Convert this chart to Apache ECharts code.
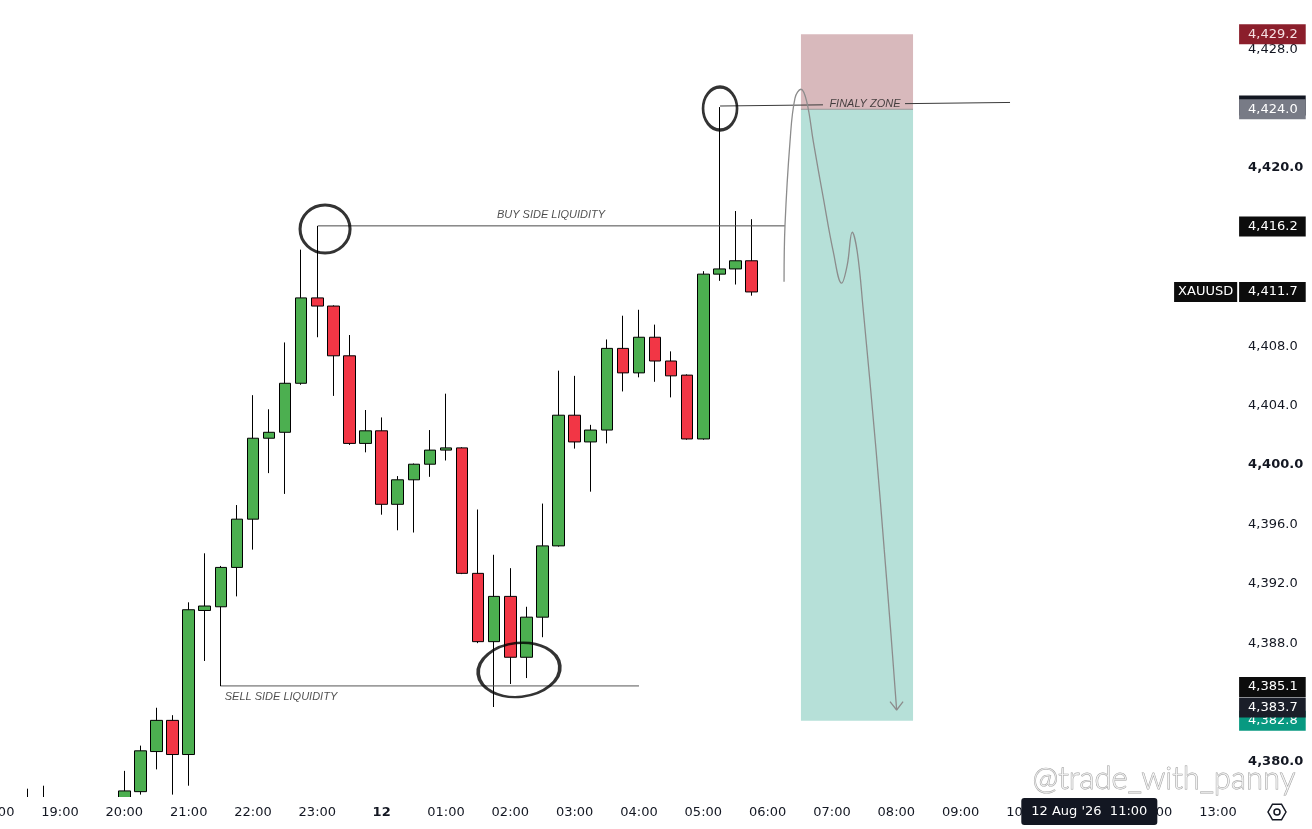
<!DOCTYPE html>
<html>
<head>
<meta charset="utf-8">
<script src="https://cdn.jsdelivr.net/npm/echarts@6/dist/echarts.min.js"></script>
<style>
html,body{margin:0;padding:0;background:#ffffff;}
#c{width:1312px;height:829px;}
</style>
</head>
<body>
<div id="c"></div>
<script>
// ---------- DATA ----------
// 15-minute time slots from 18:00 to 13:15 (next day)
const times = [];
for (let k = 0; k < 78; k++) {
  const m = 18 * 60 + k * 15;
  const h = Math.floor(m / 60) % 24, mm = m % 60;
  times.push(String(h).padStart(2, '0') + ':' + String(mm).padStart(2, '0'));
}

// [open, close, low, high]
const candles = [
  ['-','-','-','-'], ['-','-','-','-'],
  [4377.3, 4377.1, 4376.9, 4378.2],
  [4377.0, 4377.3, 4376.8, 4378.4],
  ['-','-','-','-'], ['-','-','-','-'], ['-','-','-','-'], ['-','-','-','-'],
  [4377.2, 4378.05, 4376.9, 4379.4],
  [4378.0, 4380.75, 4377.8, 4381.1],
  [4380.7, 4382.8, 4379.5, 4383.65],
  [4382.8, 4380.5, 4377.8, 4383.15],
  [4380.5, 4390.25, 4378.4, 4390.75],
  [4390.2, 4390.5, 4386.8, 4394.05],
  [4390.45, 4393.1, 4385.1, 4393.2],
  [4393.1, 4396.35, 4391.15, 4397.3],
  [4396.35, 4401.8, 4394.3, 4404.7],
  [4401.8, 4402.2, 4399.45, 4403.75],
  [4402.2, 4405.5, 4398.05, 4408.25],
  [4405.5, 4411.25, 4405.4, 4414.5],
  [4411.25, 4410.7, 4408.6, 4416.1],
  [4410.7, 4407.35, 4404.65, 4410.75],
  [4407.35, 4401.45, 4401.35, 4408.75],
  [4401.45, 4402.3, 4400.85, 4403.7],
  [4402.3, 4397.35, 4396.65, 4403.2],
  [4397.35, 4399.0, 4395.6, 4399.25],
  [4399.0, 4400.05, 4395.45, 4400.1],
  [4400.05, 4401.0, 4399.2, 4402.35],
  [4401.0, 4401.15, 4400.3, 4404.8],
  [4401.15, 4392.7, 4392.65, 4401.2],
  [4392.7, 4388.1, 4388.0, 4397.0],
  [4388.1, 4391.15, 4383.7, 4393.95],
  [4391.15, 4387.05, 4385.25, 4393.05],
  [4387.05, 4389.75, 4385.65, 4390.45],
  [4389.75, 4394.55, 4388.4, 4397.4],
  [4394.55, 4403.35, 4394.5, 4406.35],
  [4403.35, 4401.55, 4401.1, 4406.0],
  [4401.55, 4402.35, 4398.2, 4402.7],
  [4402.35, 4407.85, 4401.45, 4408.45],
  [4407.85, 4406.2, 4404.95, 4410.05],
  [4406.2, 4408.6, 4405.9, 4410.45],
  [4408.6, 4407.0, 4405.6, 4409.45],
  [4407.0, 4406.0, 4404.55, 4407.65],
  [4406.05, 4401.75, 4401.7, 4406.1],
  [4401.75, 4412.85, 4401.7, 4413.05],
  [4412.85, 4413.2, 4412.4, 4424.1],
  [4413.2, 4413.75, 4412.15, 4417.1],
  [4413.75, 4411.65, 4411.4, 4416.55]
];

// price tags on the right scale
const tagPrices = [4382.78, 4429.0, 4424.2, 4423.95, 4416.05, 4411.65, 4385.05, 4383.67];
const tagTexts  = ['4,382.8', '4,429.2', '4,424.3', '4,424.0', '4,416.2', '4,411.7', '4,385.1', '4,383.7'];
const symbolName = 'XAUUSD';
const symbolPrice = 4411.65;

// crosshair label on time axis
const pointerIndex = 68;
const pointerText = "12 Aug '26  11:00";

// drawings (x in slot units, y in price)
const buySideLine  = [[20.04, 4416.1], [49.08, 4416.1]];
const sellSideLine = [[14.01, 4385.12], [40.0, 4385.12]];
const finalyLine   = [[45.04, 4424.17], [51.44, 4424.25], ['-', '-'], [56.54, 4424.33], [63.07, 4424.41]];
const entryLine    = [[50.07, 4423.95], [57.04, 4423.95]];
const zoneX = [50.07, 57.04];
const zoneLevels = [4429.0, 4423.95, 4382.78];
const pathPts = [
  [49.02, 4412.34], [49.08, 4416.16], [49.39, 4421.77], [49.70, 4424.71], [50.07, 4425.30],
  [50.43, 4424.46], [50.84, 4421.77], [51.46, 4417.98], [52.08, 4414.36], [52.60, 4412.24],
  [52.95, 4413.47], [53.26, 4415.67], [53.57, 4414.36], [53.93, 4410.6],
  [54.74, 4401.01], [55.25, 4394.28], [55.66, 4388.69], [56.02, 4383.5]
];
const arrowPts = [[55.61, 4384.06], [56.02, 4383.5], [56.42, 4384.06]];
const circles = [
  { value: [20.48, 4415.89], size: [50, 48], rot: 0 },
  { value: [32.54, 4386.2],  size: [82, 54], rot: 6 },
  { value: [45.04, 4424.0],  size: [34, 43], rot: 0 }
];
const notes = [
  { value: [34.53, 4416.84], name: 'BUY SIDE LIQUIDITY' },
  { value: [17.74, 4384.38], name: 'SELL SIDE LIQUIDITY' },
  { value: [54.05, 4424.28], name: 'FINALY ZONE' }
];
const watermark = '@trade_with_panny';

// ---------- CHART ----------
const FONT = 'DejaVu Sans';
const TXT = '#131722';
const chart = echarts.init(document.getElementById('c'));

const tagColors = ['#089981', '#8b1e2b', '#131722', '#787b86', '#0c0c0c', '#0c0c0c', '#0c0c0c', '#1a1e29'];
const tagData = tagPrices.map((p, i) => ({
  yAxis: p,
  lineStyle: { color: 'rgba(0,0,0,0)', width: 0 },
  label: {
    show: true, position: 'end', distance: -3, formatter: tagTexts[i],
    backgroundColor: tagColors[i], color: i === 1 ? '#f6dfe2' : '#ffffff',
    fontFamily: FONT, fontSize: 13, lineHeight: 14, padding: [3, 8, 3, 9]
  }
}));
tagData.push({
  yAxis: symbolPrice,
  lineStyle: { color: 'rgba(0,0,0,0)', width: 0 },
  label: {
    show: true, position: 'end', distance: -68, formatter: symbolName,
    backgroundColor: '#0c0c0c', color: '#ffffff',
    fontFamily: FONT, fontSize: 13, lineHeight: 14, padding: [3, 4, 3, 4]
  }
});

const drawLine = (data, color, width) => ({
  type: 'line', xAxisIndex: 1, yAxisIndex: 0, data: data, symbol: 'none',
  connectNulls: false, silent: true, z: 4,
  lineStyle: { color: color, width: width }
});

const option = {
  animation: false,
  backgroundColor: '#ffffff',
  grid: { left: -12.37, right: 69.9, top: 0, bottom: 32, containLabel: false, outerBoundsMode: 'none' },
  xAxis: [
    {
      type: 'category', data: times, boundaryGap: true, z: 10,
      axisLine: { show: false }, axisTick: { show: false }, splitLine: { show: false },
      axisLabel: {
        interval: (i, v) => v.endsWith(':00'),
        formatter: v => (v === '00:00' ? '{b|12}' : v),
        color: TXT, fontFamily: FONT, fontSize: 13, margin: 9,
        rich: { b: { fontWeight: 'bold', fontFamily: FONT, fontSize: 13, color: TXT } }
      },
      axisPointer: {
        show: true, type: 'line', value: pointerIndex, status: 'show', snap: false,
        triggerTooltip: false, lineStyle: { color: 'rgba(0,0,0,0)', width: 0 },
        label: {
          show: true, formatter: () => pointerText, backgroundColor: '#131722', color: '#ffffff',
          fontFamily: FONT, fontSize: 13, padding: [7, 10, 7, 10], margin: 1
        }
      }
    },
    { type: 'value', min: -0.5, max: 77.5, show: false }
  ],
  yAxis: {
    type: 'value', position: 'right', min: 4377.64, max: 4431.31, minInterval: 4, maxInterval: 4,
    axisLine: { show: false }, axisTick: { show: false }, splitLine: { show: false },
    axisLabel: {
      margin: 6, color: TXT, fontFamily: FONT, fontSize: 13,
      formatter: v => {
        const r = Math.round(v * 10) / 10;
        if (Math.abs(r / 4 - Math.round(r / 4)) > 1e-6) return '';
        // scale labels that sit under a price tag are hidden
        if (tagPrices.some(p => Math.abs(p - r) < 0.8)) return '';
        const s = r.toLocaleString('en-US', { minimumFractionDigits: 1, maximumFractionDigits: 1 });
        return Math.round(r) % 20 === 0 ? '{b|' + s + '}' : s;
      },
      rich: { b: { fontWeight: 'bold', fontFamily: FONT, fontSize: 13, color: TXT } }
    }
  },
  series: [
    {
      type: 'line', xAxisIndex: 1, yAxisIndex: 0, data: [], silent: true, z: 1,
      markArea: {
        silent: true,
        data: [
          [{ xAxis: zoneX[0], yAxis: zoneLevels[0], itemStyle: { color: '#d8b9bc' } }, { xAxis: zoneX[1], yAxis: zoneLevels[1] }],
          [{ xAxis: zoneX[0], yAxis: zoneLevels[1], itemStyle: { color: '#b6e0d8' } }, { xAxis: zoneX[1], yAxis: zoneLevels[2] }]
        ]
      }
    },
    {
      type: 'candlestick', name: 'XAUUSD', xAxisIndex: 0, yAxisIndex: 0, data: candles,
      barWidth: 12, clip: true, z: 2,
      itemStyle: { color: '#4caf50', color0: '#f23645', borderColor: '#000000', borderColor0: '#000000', borderWidth: 1 }
    },
    drawLine(entryLine, '#9a9a9a', 1),
    drawLine(buySideLine, '#4a4a4a', 1),
    drawLine(sellSideLine, '#555555', 1),
    drawLine(finalyLine, '#3a3a3a', 1),
    Object.assign(drawLine(pathPts, '#8c8c8c', 1.3), { smooth: 0.4 }),
    drawLine(arrowPts, '#8c8c8c', 1.3),
    {
      type: 'scatter', xAxisIndex: 1, yAxisIndex: 0, silent: true, z: 5,
      data: circles.map(c => ({ value: c.value, symbolSize: c.size, symbolRotate: c.rot })),
      symbol: 'circle',
      itemStyle: { color: 'rgba(0,0,0,0)', borderColor: '#000000', borderWidth: 3 }
    },
    {
      type: 'scatter', xAxisIndex: 1, yAxisIndex: 0, silent: true, z: 5,
      data: notes, symbolSize: 1, itemStyle: { color: 'rgba(0,0,0,0)' },
      label: {
        show: true, position: 'inside', formatter: '{b}', fontStyle: 'italic',
        fontFamily: 'Liberation Sans', fontSize: 11, color: '#1e1e1e'
      }
    },
    {
      type: 'line', xAxisIndex: 1, yAxisIndex: 0, data: [], clip: false, silent: true, z: 6,
      markLine: { silent: true, symbol: ['none', 'none'], animation: false, data: tagData }
    }
  ],
  graphic: [
    { type: 'rect', z: 5, silent: true, shape: { x: -20, y: 797, width: 1262, height: 40 }, style: { fill: '#ffffff' } },
    {
      type: 'text', z: 6, silent: true, left: 1032, top: 763,
      style: { text: watermark, fontFamily: 'Lato', fontWeight: 300, fontSize: 31, fill: 'rgba(255,255,255,0.7)', stroke: '#9d9d9d', lineWidth: 0.9 }
    },
    {
      type: 'polygon', z: 11, silent: true,
      shape: { points: [[1286, 812], [1281.5, 819.8], [1272.5, 819.8], [1268, 812], [1272.5, 804.2], [1281.5, 804.2]] },
      style: { fill: 'none', stroke: TXT, lineWidth: 1.5 }
    },
    { type: 'circle', z: 11, silent: true, shape: { cx: 1277, cy: 812, r: 3 }, style: { fill: 'none', stroke: TXT, lineWidth: 1.5 } }
  ]
};
chart.setOption(option);
</script>
</body>
</html>
